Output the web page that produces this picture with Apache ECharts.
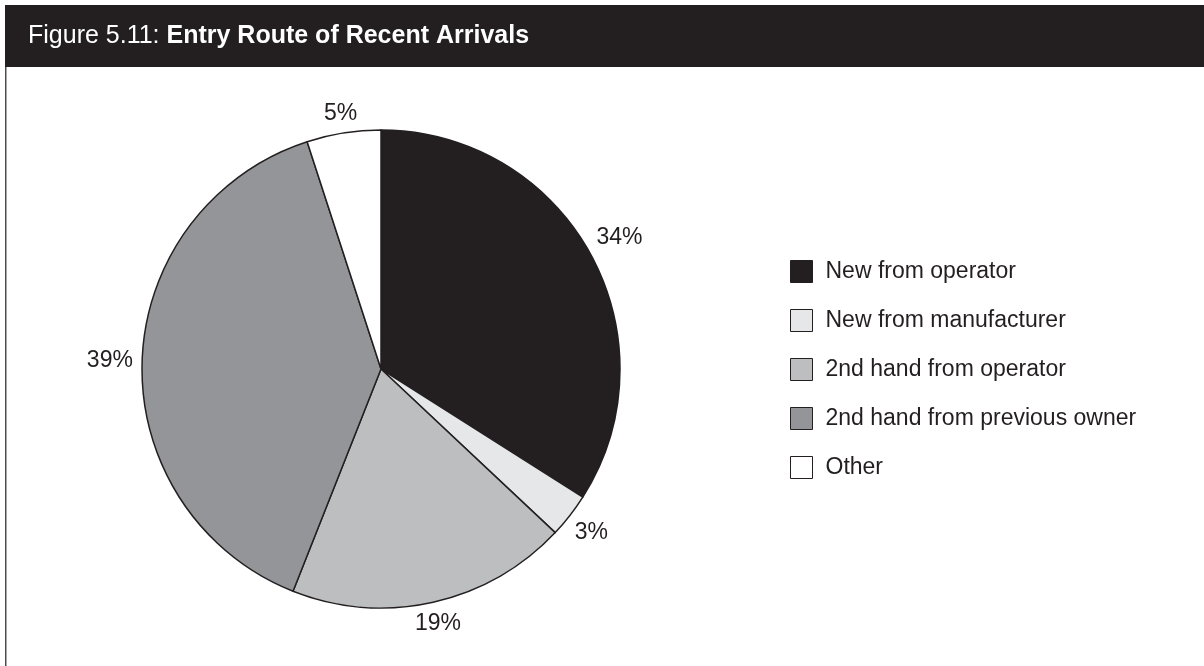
<!DOCTYPE html>
<html>
<head>
<meta charset="utf-8">
<title>Entry Route of Recent Arrivals</title>
<script src="https://cdn.jsdelivr.net/npm/echarts@6/dist/echarts.min.js"></script>
<style>
  html, body { margin: 0; padding: 0; background: #ffffff; }
  #chart { width: 1204px; height: 666px; }
</style>
</head>
<body>
<div id="chart"></div>
<script>
// Entry routes, clockwise from 12 o'clock
const categories = [
  'New from operator',
  'New from manufacturer',
  '2nd hand from operator',
  '2nd hand from previous owner',
  'Other'
];
const shares = [34, 3, 19, 39, 5];   // per cent
const sliceColors = ['#231f20', '#e6e7e8', '#bcbec0', '#939598', '#ffffff'];

const figureNumber = 'Figure 5.11: ';
const figureTitle = 'Entry Route of Recent Arrivals';

const FONT = '"Liberation Sans", Arial, Helvetica, sans-serif';
const INK = '#231f20';
const LABEL_SIZE = 23;

const pieData = categories.map((name, i) => ({
  name,
  value: shares[i],
  itemStyle: { color: sliceColors[i] }
}));

const chart = echarts.init(document.getElementById('chart'), null, { renderer: 'canvas' });

const CENTER = [381, 369];
const R = 239;
const LABEL_GAP = 9;   // clear space between the rim and the nearest edge of a label

// Push each percentage label out along its slice's mid-angle ray until the
// label's near side sits LABEL_GAP px outside the rim.
function placeOutside(params) {
  const r = params.labelRect;
  const cx = r.x + r.width / 2;
  const cy = r.y + r.height / 2;
  const vx = cx - CENTER[0];
  const vy = cy - CENTER[1];
  const len = Math.hypot(vx, vy) || 1;
  const ux = vx / len, uy = vy / len;
  // extent of the label towards the pie (glyph height rather than the line box)
  const half = Math.abs(ux) * r.width / 2 + Math.abs(uy) * LABEL_SIZE * 0.36;
  const t = R + LABEL_GAP + half;
  return {
    x: CENTER[0] + ux * t,
    y: CENTER[1] + uy * t,
    align: 'center',
    verticalAlign: 'middle'
  };
}

chart.setOption({
  backgroundColor: '#ffffff',
  animation: false,
  textStyle: { fontFamily: FONT },
  graphic: [
    // header bar
    { type: 'rect', shape: { x: 5, y: 5, width: 1199, height: 62 },
      style: { fill: '#231f20' }, silent: true },
    { type: 'text', x: 28, y: 36,
      style: {
        text: '{n|' + figureNumber + '}{b|' + figureTitle + '}',
        verticalAlign: 'middle',
        rich: {
          n: { fill: '#ffffff', fontSize: 25, fontFamily: FONT },
          b: { fill: '#ffffff', fontSize: 25, fontWeight: 'bold', fontFamily: FONT }
        }
      }, silent: true },
    // left frame rule of the panel
    { type: 'line', shape: { x1: 5.75, y1: 67, x2: 5.75, y2: 666 },
      style: { stroke: '#4d4d4f', lineWidth: 1.5 }, silent: true }
  ],
  legend: {
    orient: 'vertical',
    left: 785,
    top: 255,
    icon: 'rect',
    itemWidth: 22,
    itemHeight: 22,
    itemGap: 26,
    selectedMode: false,
    data: categories,
    itemStyle: { borderColor: INK, borderWidth: 1 },
    textStyle: { fontSize: 23, color: INK, fontFamily: FONT, padding: [0, 0, 0, 8] }
  },
  series: [
    {
      type: 'pie',
      center: CENTER,
      radius: R,
      startAngle: 90,
      clockwise: true,
      avoidLabelOverlap: false,
      silent: true,
      label: { show: false },
      labelLine: { show: false },
      itemStyle: { borderColor: INK, borderWidth: 1.5 },
      emphasis: { disabled: true },
      data: pieData
    },
    {
      // transparent ring that carries the percentage labels on each mid-angle
      type: 'pie',
      center: CENTER,
      radius: [R + 8, R + 44],
      startAngle: 90,
      clockwise: true,
      avoidLabelOverlap: false,
      silent: true,
      legendHoverLink: false,
      itemStyle: { color: 'rgba(0,0,0,0)', borderWidth: 0 },
      label: {
        show: true,
        position: 'inside',
        formatter: '{c}%',
        fontSize: LABEL_SIZE,
        color: INK,
        fontFamily: FONT
      },
      labelLayout: placeOutside,
      labelLine: { show: false },
      emphasis: { disabled: true },
      data: categories.map((name, i) => ({ name, value: shares[i] }))
    }
  ]
});
</script>
</body>
</html>
